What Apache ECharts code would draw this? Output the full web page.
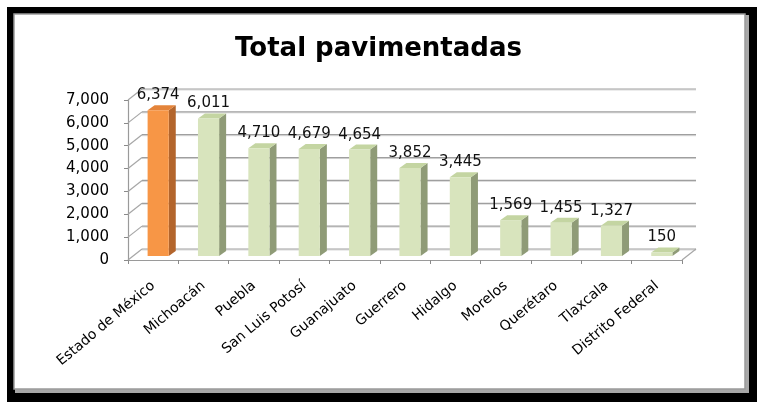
<!DOCTYPE html>
<html>
<head>
<meta charset="utf-8">
<script src="https://cdn.jsdelivr.net/npm/echarts@6/dist/echarts.min.js"></script>
<style>
  html, body { margin: 0; padding: 0; background: #ffffff; }
  #chart { width: 757px; height: 402px; }
</style>
</head>
<body>
<div id="chart"></div>
<script>
// Paved roads per state
const categories = ['Estado de México', 'Michoacán', 'Puebla', 'San Luis Potosí', 'Guanajuato',
  'Guerrero', 'Hidalgo', 'Morelos', 'Querétaro', 'Tlaxcala', 'Distrito Federal'];
const values = [6374, 6011, 4710, 4679, 4654, 3852, 3445, 1569, 1455, 1327, 150];
const highlighted = ['Estado de México'];
const yTicks = [0, 1000, 2000, 3000, 4000, 5000, 6000, 7000];

const fmt = v => Number(v).toLocaleString('en-US');

// 3D look: wall depth and bar depth offsets
const WALL_DX = 14, WALL_DY = -11;
const BAR_SHIFT_X = 5, BAR_SHIFT_Y = -4;
const BAR_DX = 7, BAR_DY = -5;

const green = { front: '#d8e4bd', side: '#8f9b77', top: '#c4d5a2' };
const orange = { front: '#f79646', side: '#b3652c', top: '#e4843a' };

const chart = echarts.init(document.getElementById('chart'), null, { renderer: 'canvas' });

function renderGrid(params, api) {
  const cs = params.coordSys;
  const v = api.value(0);
  const y = api.coord([0, v])[1];
  const x0 = cs.x, x1 = cs.x + cs.width;
  const children = [
    { type: 'line', shape: { x1: x0 + WALL_DX, y1: y + WALL_DY + 1, x2: x1 + WALL_DX, y2: y + WALL_DY + 1 },
      style: { stroke: '#dadada', lineWidth: 1 } },
    { type: 'line', shape: { x1: x0 + WALL_DX, y1: y + WALL_DY, x2: x1 + WALL_DX, y2: y + WALL_DY },
      style: { stroke: '#9f9f9f', lineWidth: 1.2 } },
    { type: 'line', shape: { x1: x0, y1: y, x2: x0 + WALL_DX, y2: y + WALL_DY },
      style: { stroke: '#a6a6a6', lineWidth: 1.2 } }
  ];
  if (v === 0) {
    children.push({ type: 'line', shape: { x1: x1, y1: y, x2: x1 + WALL_DX, y2: y + WALL_DY },
      style: { stroke: '#a6a6a6', lineWidth: 1.2 } });
  }
  return { type: 'group', children };
}

function renderBar(params, api) {
  const idx = api.value(0);
  const val = api.value(1);
  const base = api.coord([idx, 0]);
  const top = api.coord([idx, val]);
  const slot = api.size([1, 0])[0];
  const bw = slot * 0.42;
  const cx = base[0] + BAR_SHIFT_X;
  const x0 = cx - bw / 2, x1 = cx + bw / 2;
  const yb = base[1] + BAR_SHIFT_Y, yt = top[1] + BAR_SHIFT_Y;
  const c = highlighted.includes(categories[idx]) ? orange : green;
  return {
    type: 'group',
    children: [
      { type: 'polygon', shape: { points: [[x1, yb], [x1 + BAR_DX, yb + BAR_DY], [x1 + BAR_DX, yt + BAR_DY], [x1, yt]] },
        style: { fill: c.side } },
      { type: 'polygon', shape: { points: [[x0, yt], [x1, yt], [x1 + BAR_DX, yt + BAR_DY], [x0 + BAR_DX, yt + BAR_DY]] },
        style: { fill: c.top } },
      { type: 'rect', shape: { x: x0, y: yt, width: bw, height: yb - yt },
        style: { fill: c.front } },
      { type: 'text', style: { x: cx, y: yt - 15, text: fmt(val), align: 'center', verticalAlign: 'middle',
        font: '15px "DejaVu Sans"', fill: '#111' } }
    ]
  };
}

chart.setOption({
  animation: false,
  backgroundColor: '#ffffff',
  graphic: [
    { type: 'rect', z: -10, silent: true, shape: { x: 7, y: 7, width: 750, height: 395 }, style: { fill: '#000' } },
    { type: 'rect', z: -9, silent: true, shape: { x: 15, y: 15, width: 734, height: 378 }, style: { fill: '#a8a8a8' } },
    { type: 'rect', z: -8, silent: true, shape: { x: 14, y: 14, width: 731, height: 375 },
      style: { fill: '#ffffff', stroke: '#9a9a9a', lineWidth: 1.5 } }
  ],
  title: {
    text: 'Total pavimentadas',
    left: 'center',
    top: 31,
    textStyle: { fontFamily: 'DejaVu Sans', fontWeight: 'bold', fontSize: 26, color: '#000' }
  },
  grid: { left: 128, right: 75, top: 100, bottom: 142 },
  xAxis: {
    type: 'category',
    data: categories,
    axisLine: { lineStyle: { color: '#9a9a9a', width: 1.2 } },
    axisTick: { show: true, length: 4, lineStyle: { color: '#8a8a8a' } },
    axisLabel: { rotate: 40, interval: 0, margin: 24, fontFamily: 'DejaVu Sans', fontSize: 14, color: '#000' },
    splitLine: { show: false }
  },
  yAxis: {
    type: 'value',
    min: 0, max: 7000, interval: 1000,
    axisLine: { show: true, lineStyle: { color: '#9a9a9a', width: 1.2 } },
    axisTick: { show: true, length: 4, lineStyle: { color: '#8a8a8a' } },
    axisLabel: { margin: 19, formatter: v => fmt(v), fontFamily: 'DejaVu Sans', fontSize: 15, color: '#000' },
    splitLine: { show: false }
  },
  series: [
    { type: 'custom', z: 1, silent: true, renderItem: renderGrid, data: yTicks.map(v => [v]), encode: { y: 0 } },
    { type: 'custom', z: 2, renderItem: renderBar, data: values.map((v, i) => [i, v]), encode: { x: 0, y: 1 } }
  ]
});
</script>
</body>
</html>
